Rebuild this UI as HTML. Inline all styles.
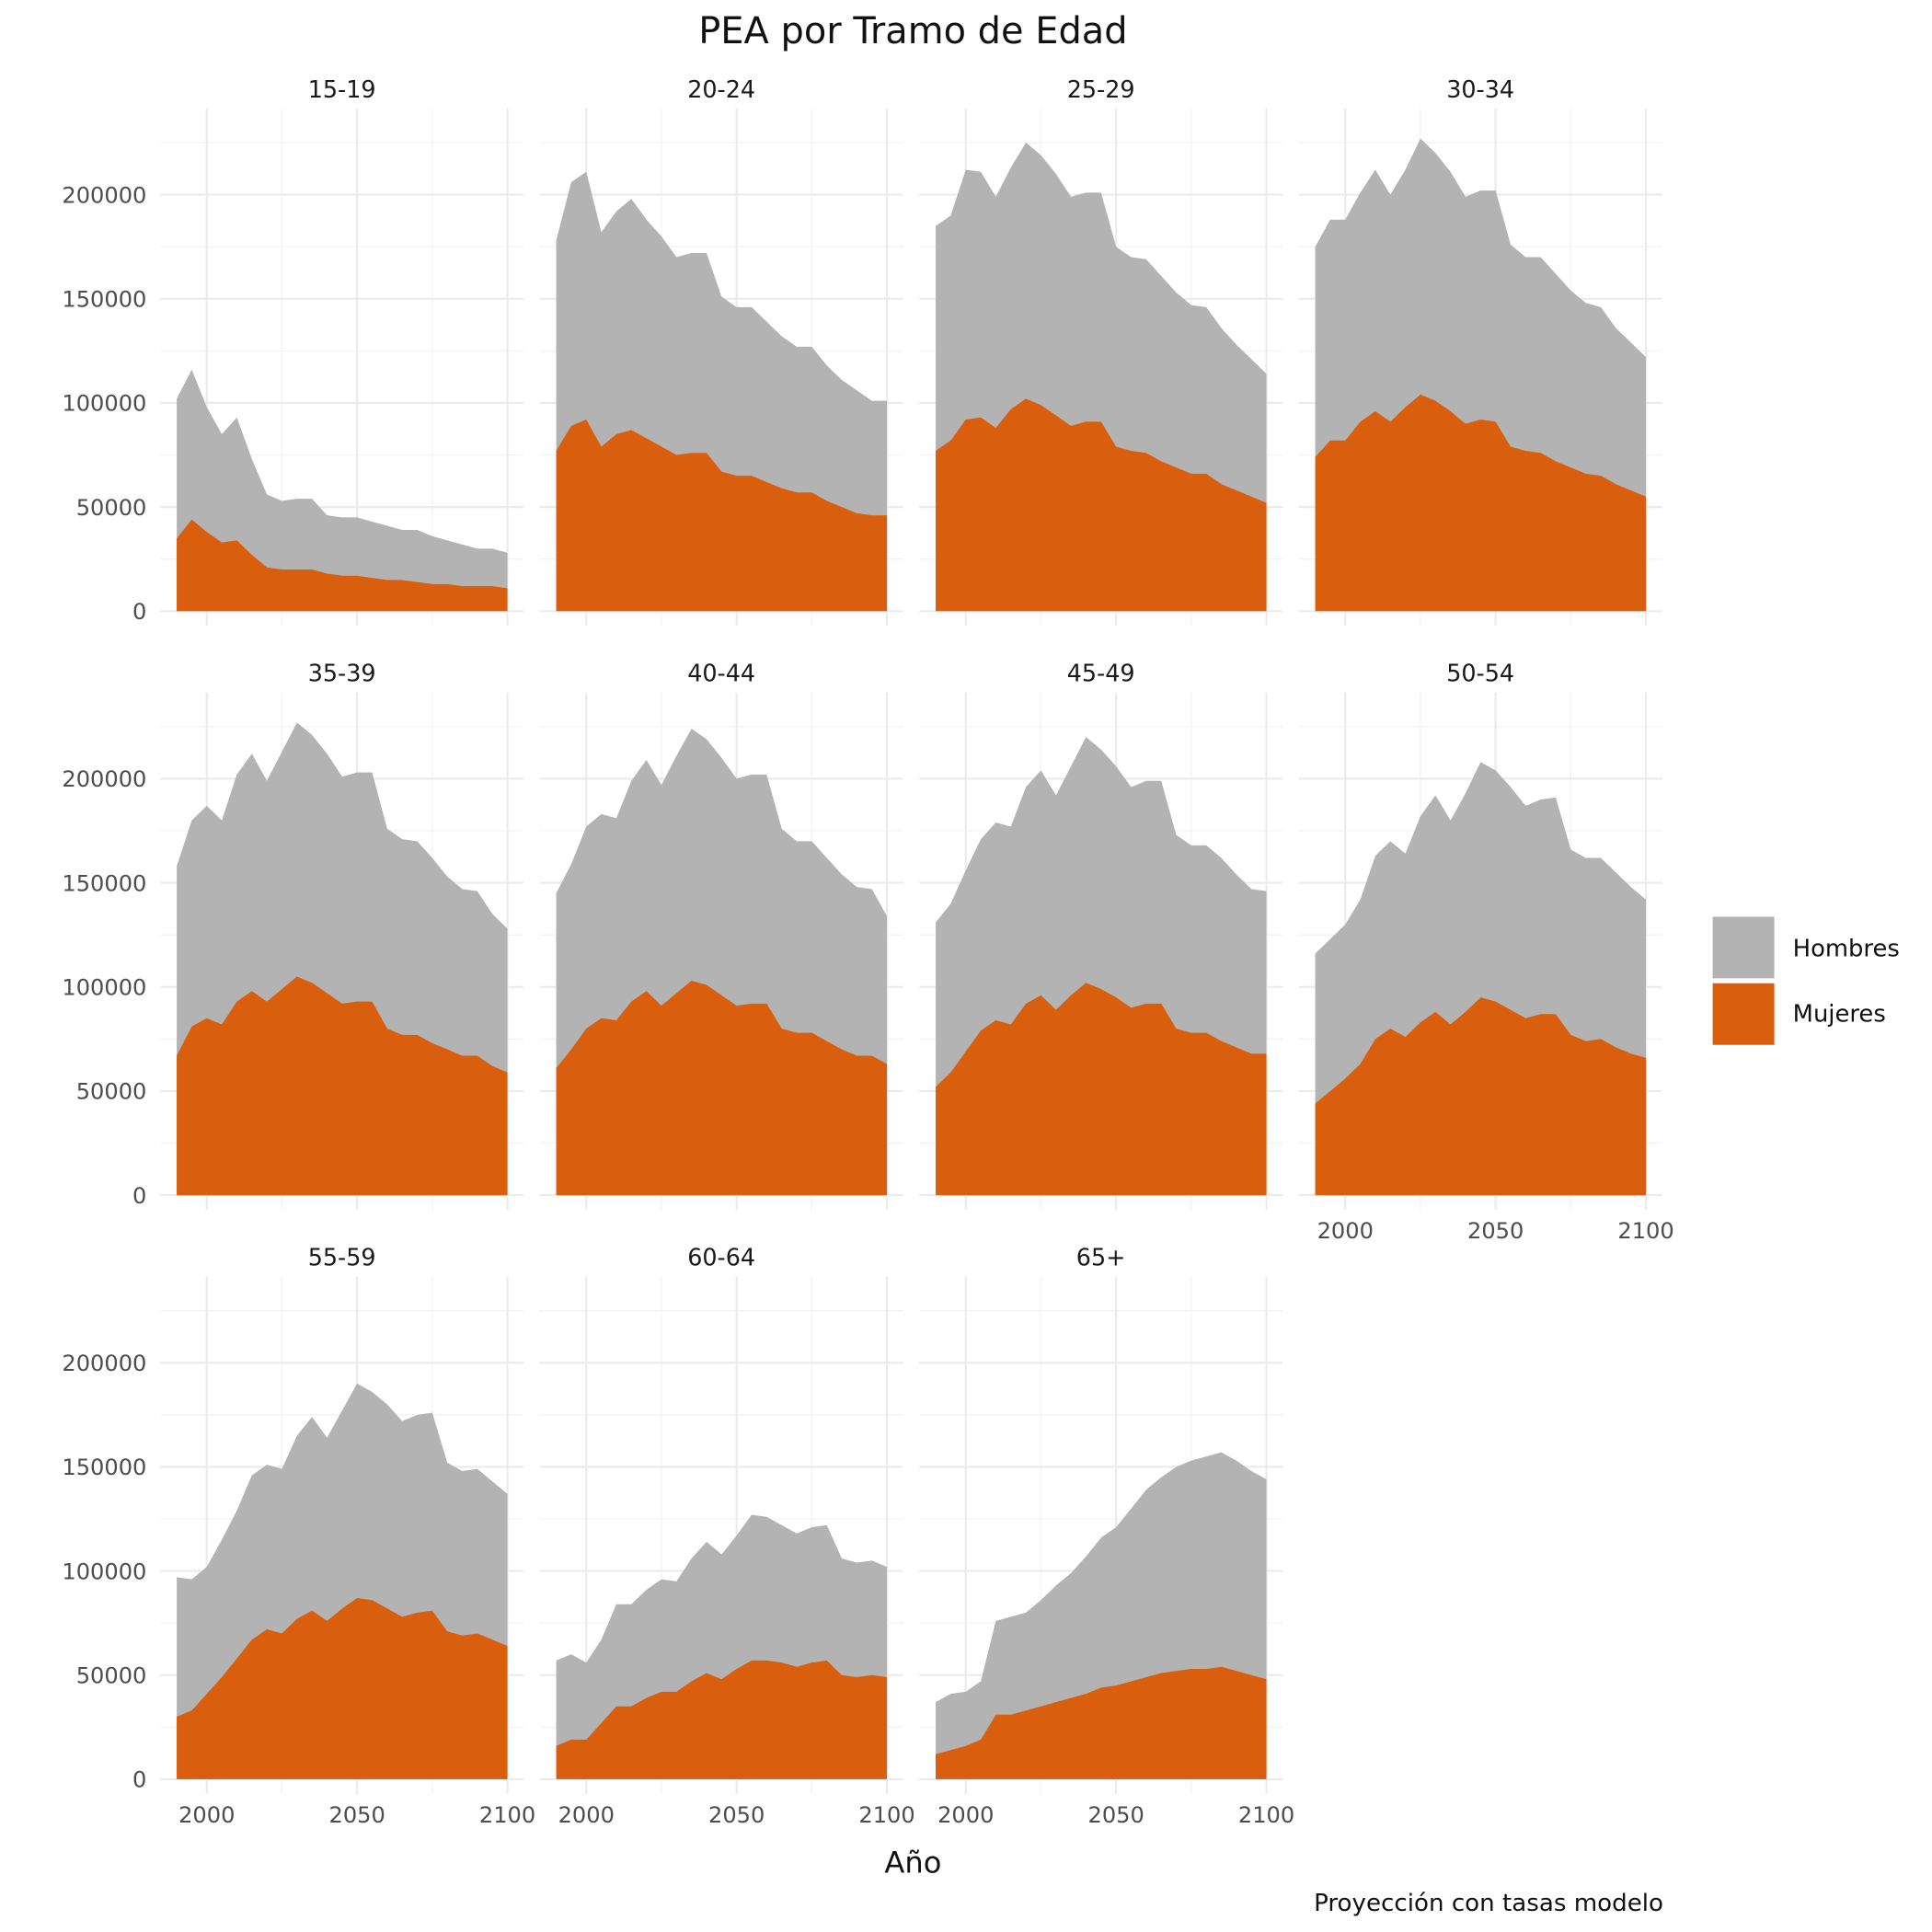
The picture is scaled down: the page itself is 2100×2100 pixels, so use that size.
<!DOCTYPE html>
<html><head><meta charset="utf-8"><style>
html,body{margin:0;padding:0;background:#fff;}
svg{display:block;font-family:"DejaVu Sans","Liberation Sans",sans-serif;}
</style></head><body>
<svg id="chart" width="2100" height="2100" viewBox="0 0 1568 1568" xmlns="http://www.w3.org/2000/svg">
<text x="741" y="35" font-size="29.8" text-anchor="middle" fill="#111">PEA por Tramo de Edad</text>
<text x="741" y="1520" font-size="24" text-anchor="middle" fill="#111">Año</text>
<text x="1350" y="1551" font-size="19.5" text-anchor="end" fill="#111">Proyección con tasas modelo</text>
<g id="legend">
<rect x="1390" y="744" width="50" height="50" fill="#b3b3b3"/>
<rect x="1390" y="798" width="50" height="50" fill="#d95f0e"/>
<text x="1455" y="776" font-size="19.3" fill="#111">Hombres</text>
<text x="1455" y="829" font-size="19.3" fill="#111">Mujeres</text>
</g>
<g id="panels"></g>
</svg>
<script>
const years = [1990,1995,2000,2005,2010,2015,2020,2025,2030,2035,2040,2045,2050,2055,2060,2065,2070,2075,2080,2085,2090,2095,2100];
const groups = ["15-19","20-24","25-29","30-34","35-39","40-44","45-49","50-54","55-59","60-64","65+"];
const xTicks = [2000,2050,2100];
const yTicks = [0,50000,100000,150000,200000];
// totals (Hombres + Mujeres), thousands
const total_15_19 = [102,116,98,85,93,73,56,53,54,54,46,45,45,43,41,39,39,36,34,32,30,30,28];
const total_20_24 = [178,206,211,182,192,198,188,180,170,172,172,151,146,146,139,132,127,127,118,111,106,101,101];
const total_25_29 = [185,190,212,211,199,213,225,219,210,199,201,201,175,170,169,161,153,147,146,136,128,121,114];
const total_30_34 = [175,188,188,201,212,200,212,227,220,211,199,202,202,176,170,170,162,154,148,146,136,129,122];
const total_35_39 = [158,180,187,180,202,212,199,213,227,221,212,201,203,203,176,171,170,162,153,147,146,135,128];
const total_40_44 = [145,159,177,183,181,199,209,197,211,224,219,210,200,202,202,176,170,170,162,154,148,147,134];
const total_45_49 = [131,140,156,171,179,177,196,204,192,206,220,214,206,196,199,199,173,168,168,162,154,147,146];
const total_50_54 = [116,123,130,142,163,170,164,182,192,180,193,208,204,196,187,190,191,166,162,162,155,148,142];
const total_55_59 = [97,96,102,115,129,146,151,149,165,174,164,177,190,186,180,172,175,176,152,148,149,143,137];
const total_60_64 = [57,60,56,67,84,84,91,96,95,106,114,108,117,127,126,122,118,121,122,106,104,105,102];
const total_65 = [37,41,42,47,76,78,80,86,93,99,107,116,121,130,139,145,150,153,155,157,153,148,144];
// Mujeres, thousands
const muj_15_19 = [35,44,38,33,34,27,21,20,20,20,18,17,17,16,15,15,14,13,13,12,12,12,11];
const muj_20_24 = [77,89,92,79,85,87,83,79,75,76,76,67,65,65,62,59,57,57,53,50,47,46,46];
const muj_25_29 = [77,82,92,93,88,97,102,99,94,89,91,91,79,77,76,72,69,66,66,61,58,55,52];
const muj_30_34 = [74,82,82,91,96,91,98,104,101,96,90,92,91,79,77,76,72,69,66,65,61,58,55];
const muj_35_39 = [67,81,85,82,93,98,93,99,105,102,97,92,93,93,80,77,77,73,70,67,67,62,59];
const muj_40_44 = [61,70,80,85,84,93,98,91,97,103,101,96,91,92,92,80,78,78,74,70,67,67,63];
const muj_45_49 = [52,59,69,79,84,82,92,96,89,96,102,99,95,90,92,92,80,78,78,74,71,68,68];
const muj_50_54 = [44,50,56,63,75,80,76,83,88,82,88,95,93,89,85,87,87,77,74,75,71,68,66];
const muj_55_59 = [30,33,41,49,58,67,72,70,77,81,76,82,87,86,82,78,80,81,71,69,70,67,64];
const muj_60_64 = [16,19,19,27,35,35,39,42,42,47,51,48,53,57,57,56,54,56,57,50,49,50,49];
const muj_65 = [12,14,16,19,31,31,33,35,37,39,41,44,45,47,49,51,52,53,53,54,52,50,48];

const totals = [total_15_19,total_20_24,total_25_29,total_30_34,total_35_39,total_40_44,total_45_49,total_50_54,total_55_59,total_60_64,total_65];
const mujeres = [muj_15_19,muj_20_24,muj_25_29,muj_30_34,muj_35_39,muj_40_44,muj_45_49,muj_50_54,muj_55_59,muj_60_64,muj_65];

const NS = "http://www.w3.org/2000/svg";
const root = document.getElementById("panels");
function mk(tag, attrs, parent){const e=document.createElementNS(NS,tag);for(const k in attrs)e.setAttribute(k,attrs[k]);parent.appendChild(e);return e;}

const PW = 295, PLEFT = [130,438,746,1054];
groups.forEach((g, i) => {
  const c = i % 4, r = Math.floor(i / 4);
  const left = PLEFT[c], zeroY = 496 + 474 * r, top = 88 + 474 * r, bottom = 508 + 474 * r;
  const xs = yr => left + (yr - 1984.5) * 2.44;
  const ys = v => zeroY - v * 338 / 200000;
  const pg = mk("g", {}, root);
  
  
  [2025, 2075].forEach(t => { const l = mk("line", {x1: xs(t), x2: xs(t), y1: top, y2: bottom, stroke: "#f3f3f3", "stroke-width": 1}, pg);   });
  [25000, 75000, 125000, 175000, 225000].forEach(t => { const l = mk("line", {x1: left, x2: left + PW, y1: ys(t), y2: ys(t), stroke: "#f3f3f3", "stroke-width": 1}, pg);   });
  xTicks.forEach(t => { const l = mk("line", {x1: xs(t), x2: xs(t), y1: top, y2: bottom, stroke: "#ebebeb", "stroke-width": 1.6}, pg);   });
  yTicks.forEach(t => { const l = mk("line", {x1: left, x2: left + PW, y1: ys(t), y2: ys(t), stroke: "#ebebeb", "stroke-width": 1.6}, pg);   });
  const tot = totals[i], mu = mujeres[i];
  let dT = "M" + xs(years[0]) + "," + ys(0);
  years.forEach((y, k) => { dT += " L" + xs(y) + "," + ys(tot[k] * 1000); });
  dT += " L" + xs(years[years.length - 1]) + "," + ys(0) + " Z";
  const aT = mk("path", {d: dT, fill: "#b3b3b3"}, pg);
  
  
  let dM = "M" + xs(years[0]) + "," + ys(0);
  years.forEach((y, k) => { dM += " L" + xs(y) + "," + ys(mu[k] * 1000); });
  dM += " L" + xs(years[years.length - 1]) + "," + ys(0) + " Z";
  const aM = mk("path", {d: dM, fill: "#d95f0e"}, pg);
  
  
  const st = mk("text", {x: left + PW / 2, y: 79 + 474 * r, "font-size": 19, "text-anchor": "middle", fill: "#1a1a1a"}, pg);
  st.textContent = g;
  
  
  if (c === 0) {
    yTicks.forEach(t => {
      const tx = mk("text", {x: 119, y: ys(t) + 6.5, "font-size": 18, "text-anchor": "end", fill: "#4d4d4d"}, pg);
      tx.textContent = String(t);
      
      
    });
  }
  if (r === 2 || (r === 1 && c === 3)) {
    xTicks.forEach(t => {
      const tx = mk("text", {x: xs(t), y: bottom + 23, "font-size": 18, "text-anchor": "middle", fill: "#4d4d4d"}, pg);
      tx.textContent = String(t);
      
      
    });
  }
});
</script>
</body></html>
